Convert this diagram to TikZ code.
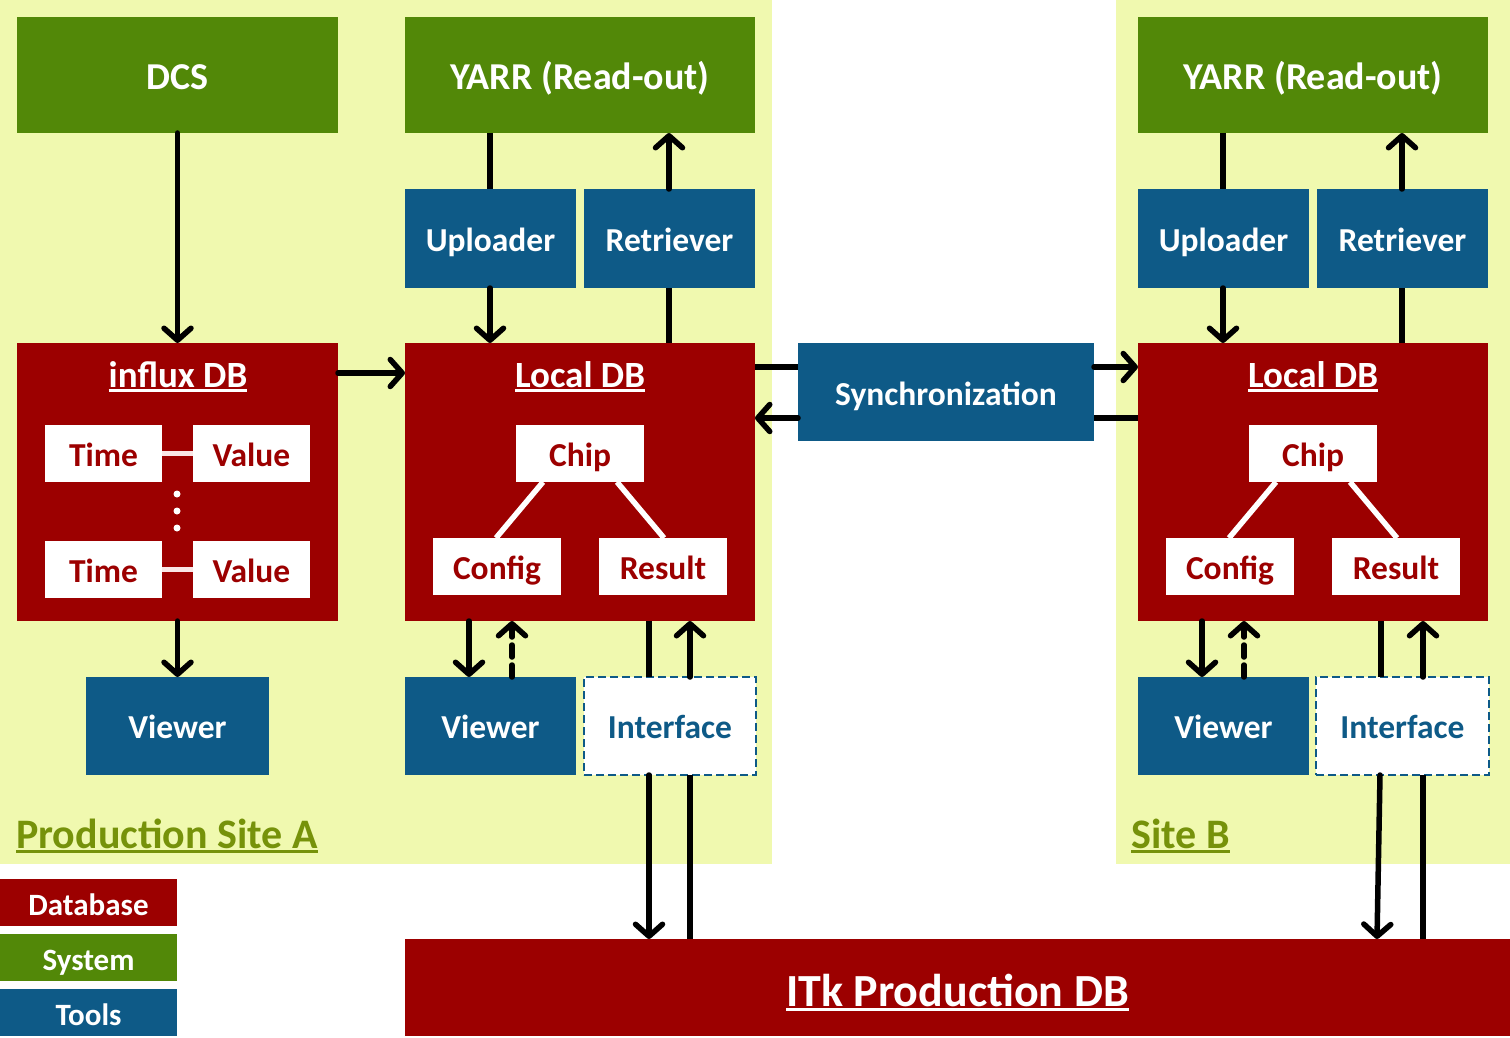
\documentclass[tikz,border=0pt]{standalone}
\usepackage{fontspec}
\setmainfont{Carlito}
\usetikzlibrary{arrows.meta,calc}
\definecolor{bgY}{RGB}{240,249,175}
\definecolor{gSys}{RGB}{82,136,8}
\definecolor{bTool}{RGB}{14,90,135}
\definecolor{rDB}{RGB}{156,0,0}
\definecolor{olv}{RGB}{118,146,10}
\definecolor{lnk}{RGB}{250,230,230}
\newcommand\myul[2][5]{\setbox0\hbox{#2}\rlap{\rule[-#1pt]{\wd0}{3pt}}\box0}
\newcommand\fs[1]{\fontsize{#1}{#1}\selectfont}
\tikzset{
  box/.style={anchor=north west, inner sep=0pt, outer sep=0pt, font=\bfseries\fs{33.5}, text=white, text depth=0pt, text height=25.5pt},
  sysbox/.style={box, fill=gSys, font=\bfseries\fs{38}, text height=30pt},
  toolbox/.style={box, fill=bTool},
  dbbox/.style={box, fill=rDB},
  inbox/.style={box, fill=white, text=rDB, text height=25pt},
  ifbox/.style={box, fill=white, text=bTool, draw=bTool, line width=2.5pt, dash pattern=on 8pt off 4pt},
  legbox/.style={box, font=\bfseries\fs{31}, text height=25pt},
  arr/.style={-{Straight Barb[round,length=12pt,width=27pt]}, line width=5.5pt, line cap=round},
  ln/.style={line width=5.5pt},
  wl/.style={white, line width=5.5pt},
  ttl/.style={text=white, font=\bfseries\fs{37}, inner sep=0pt, anchor=base}
}
\begin{document}
\begin{tikzpicture}[x=1pt,y=-1pt]
\path[use as bounding box, fill=white] (0,0) rectangle (1510,1038);
% site backgrounds
\fill[bgY] (0,0) rectangle (772,864);
\fill[bgY] (1116,0) rectangle (1510,864);
% Site A
\node[sysbox, minimum width=321pt, minimum height=116pt] (dcs) at (17,17) {DCS};
\node[sysbox, minimum width=350pt, minimum height=116pt] (yarra) at (405,17) {YARR (Read-out)};
\node[toolbox, minimum width=171pt, minimum height=99pt] (upa) at (405,189) {Uploader};
\node[toolbox, minimum width=171pt, minimum height=99pt] (rta) at (584,189) {Retriever};
\node[dbbox, minimum width=321pt, minimum height=278pt] (inf) at (17,343) {};
\node[dbbox, minimum width=350pt, minimum height=278pt] (lda) at (405,343) {};
\node[ttl] (inft) at (178,387) {\myul{influx DB}};
\node[ttl] (ldat) at (580,387) {\myul{Local DB}};
\node[inbox, minimum width=117pt, minimum height=57pt] (t1) at (45,425) {Time};
\node[inbox, minimum width=117pt, minimum height=57pt] (v1) at (193,425) {Value};
\node[inbox, minimum width=117pt, minimum height=57pt] (t2) at (45,541) {Time};
\node[inbox, minimum width=117pt, minimum height=57pt] (v2) at (193,541) {Value};
\draw[lnk, line width=5pt] (t1.east) -- (v1.west);
\draw[lnk, line width=5pt] (t2.east) -- (v2.west);
\foreach \yy in {494,511,528} \fill[white] (177,\yy) circle (3.5pt);
\node[inbox, minimum width=128pt, minimum height=57pt] (chipa) at (516,425) {Chip};
\node[inbox, minimum width=128pt, minimum height=57pt] (cfga) at (433,538) {Config};
\node[inbox, minimum width=128pt, minimum height=57pt] (resa) at (599,538) {Result};
\draw[wl] (543,0 |- chipa.south) -- (496,0 |- cfga.north);
\draw[wl] (617,0 |- chipa.south) -- (664,0 |- resa.north);
\node[toolbox, minimum width=183pt, minimum height=98pt] (via) at (86,677) {Viewer};
\node[toolbox, minimum width=171pt, minimum height=98pt] (vla) at (405,677) {Viewer};
\node[ifbox, minimum width=172pt, minimum height=98pt] (ifa) at (584,677) {Interface};
\node[anchor=base west, inner sep=0pt, text=olv, font=\bfseries\fs{42}] (sa) at (16,848) {\myul[5]{Production Site A}};
% Sync
\node[toolbox, minimum width=296pt, minimum height=98pt, text height=26pt] (sync) at (798,343) {Synchronization};
% Site B
\node[sysbox, minimum width=350pt, minimum height=116pt] (yarrb) at (1138,17) {YARR (Read-out)};
\node[toolbox, minimum width=171pt, minimum height=99pt] (upb) at (1138,189) {Uploader};
\node[toolbox, minimum width=171pt, minimum height=99pt] (rtb) at (1317,189) {Retriever};
\node[dbbox, minimum width=350pt, minimum height=278pt] (ldb) at (1138,343) {};
\node[ttl] (ldbt) at (1313,387) {\myul{Local DB}};
\node[inbox, minimum width=128pt, minimum height=57pt] (chipb) at (1249,425) {Chip};
\node[inbox, minimum width=128pt, minimum height=57pt] (cfgb) at (1166,538) {Config};
\node[inbox, minimum width=128pt, minimum height=57pt] (resb) at (1332,538) {Result};
\draw[wl] (1276,0 |- chipb.south) -- (1229,0 |- cfgb.north);
\draw[wl] (1350,0 |- chipb.south) -- (1397,0 |- resb.north);
\node[toolbox, minimum width=171pt, minimum height=98pt] (vlb) at (1138,677) {Viewer};
\node[ifbox, minimum width=173pt, minimum height=98pt] (ifb) at (1316,677) {Interface};
\node[anchor=base west, inner sep=0pt, text=olv, font=\bfseries\fs{42}] (sb) at (1131,848) {\myul[5]{Site B}};
% ITk
\node[dbbox, minimum width=1105pt, minimum height=97pt, font=\bfseries\fs{46}, text height=37pt] (itk) at (405,939) {\myul[5]{ITk Production DB}};
% legend
\node[legbox, fill=rDB, minimum width=177pt, minimum height=47pt] (lgd) at (0,879) {Database};
\node[legbox, fill=gSys, minimum width=177pt, minimum height=47pt] (lgs) at (0,934) {System};
\node[legbox, fill=bTool, minimum width=177pt, minimum height=47pt] (lgt) at (0,989) {Tools};
% connectors Site A
\draw[arr] (dcs.south) -- (inf.north);
\draw[arr] (inf.east |- 0,373) -- (lda.west |- 0,373);
\draw[arr] (inf.south) -- (via.north);
\draw[ln] (490,0 |- yarra.south) -- (490,0 |- upa.north);
\draw[arr] (490,0 |- upa.south) -- (490,0 |- lda.north);
\draw[ln] (669,0 |- lda.north) -- (669,0 |- rta.south);
\draw[arr] (669,0 |- rta.north) -- (669,0 |- yarra.south);
\draw[arr] (469,0 |- lda.south) -- (469,0 |- vla.north);
\draw[arr, dash pattern=on 12pt off 8pt] (512,0 |- vla.north) -- (512,0 |- lda.south);
\draw[ln] (649,0 |- lda.south) -- (649,0 |- ifa.north);
\draw[arr] (690,0 |- ifa.north) -- (690,0 |- lda.south);
\draw[arr] (649,0 |- ifa.south) -- (649,0 |- itk.north);
\draw[ln] (690,0 |- itk.north) -- (690,0 |- ifa.south);
% sync
\draw[ln] (lda.east |- 0,367) -- (sync.west |- 0,367);
\draw[arr] (sync.east |- 0,367) -- (ldb.west |- 0,367);
\draw[ln] (ldb.west |- 0,418) -- (sync.east |- 0,418);
\draw[arr] (sync.west |- 0,418) -- (lda.east |- 0,418);
% Site B
\draw[ln] (1223,0 |- yarrb.south) -- (1223,0 |- upb.north);
\draw[arr] (1223,0 |- upb.south) -- (1223,0 |- ldb.north);
\draw[ln] (1402,0 |- ldb.north) -- (1402,0 |- rtb.south);
\draw[arr] (1402,0 |- rtb.north) -- (1402,0 |- yarrb.south);
\draw[arr] (1202,0 |- ldb.south) -- (1202,0 |- vlb.north);
\draw[arr, dash pattern=on 12pt off 8pt] (1244,0 |- vlb.north) -- (1244,0 |- ldb.south);
\draw[ln] (1381,0 |- ldb.south) -- (1381,0 |- ifb.north);
\draw[arr] (1423,0 |- ifb.north) -- (1423,0 |- ldb.south);
\draw[arr] (1380,0 |- ifb.south) -- (1377,0 |- itk.north);
\draw[ln] (1423,0 |- itk.north) -- (1423,0 |- ifb.south);
\end{tikzpicture}
\end{document}
